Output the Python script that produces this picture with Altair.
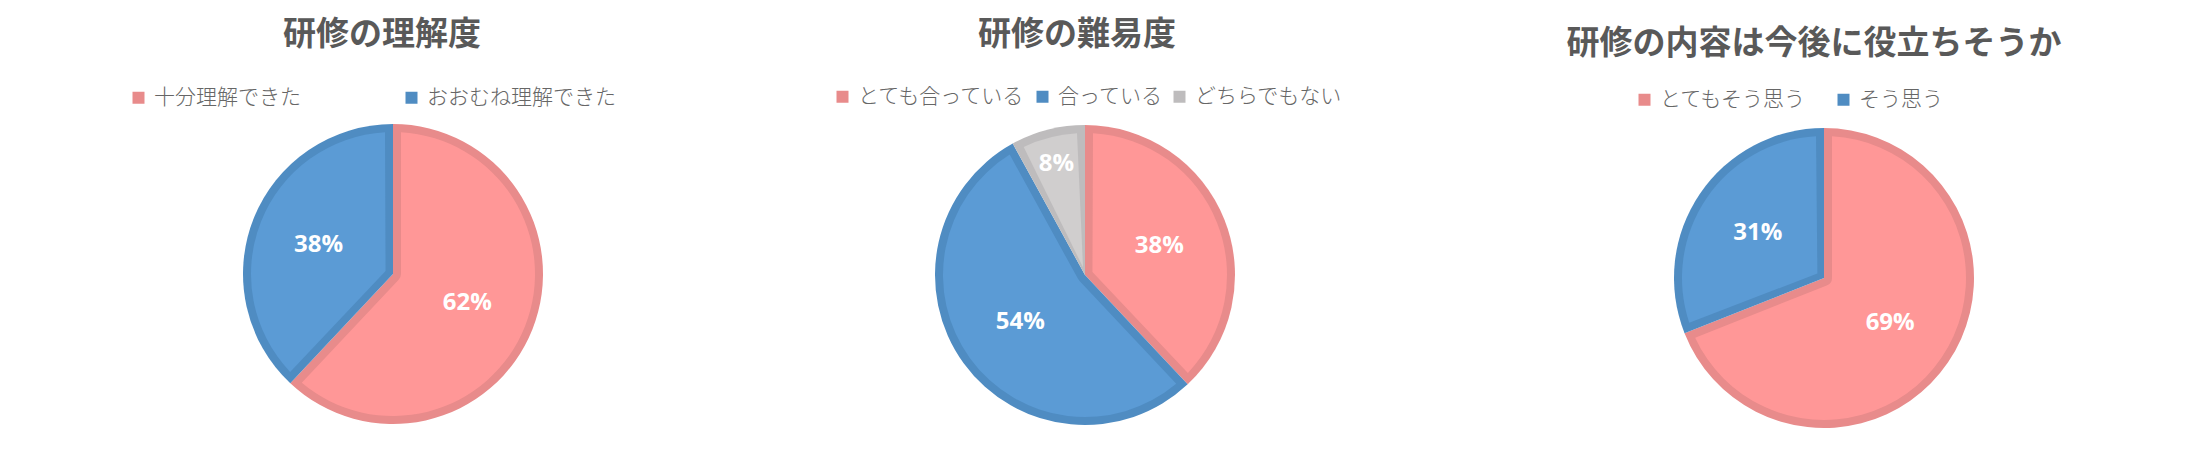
import altair as alt
import pandas as pd
import math

# ---- data ----
titles = ["研修の理解度", "研修の難易度", "研修の内容は今後に役立ちそうか"]

q1_cats = ["十分理解できた", "おおむね理解できた"]
q1_vals = [62, 38]

q2_cats = ["とても合っている", "合っている", "どちらでもない"]
q2_vals = [38, 54, 8]

q3_cats = ["とてもそう思う", "そう思う"]
q3_vals = [69, 31]

# ---- styles ----
fill_colors = ["#FF9797", "#5B9BD5", "#D0CECE"]
border_colors = ["#E88B8B", "#4F8CC2", "#BEBCBD"]
TEXT_GRAY = "#595959"
LEGEND_GRAY = "#666666"
JP_FONT = "Noto Sans CJK JP"
BORDER = 8

# layout per panel (chart coordinates)
layout = [
    dict(cx=385, cy=266, r=150, tx=374, ty=27, lx=120, ly=79, pad=100),
    dict(cx=1077, cy=267, r=150, tx=1069, ty=27, lx=824, ly=78, pad=6),
    dict(cx=1816, cy=270, r=150, tx=1806, ty=36, lx=1626, ly=81, pad=26),
]

questions = [(q1_cats, q1_vals), (q2_cats, q2_vals), (q3_cats, q3_vals)]

layers = []
for i, ((cats, vals), lay, title) in enumerate(zip(questions, layout, titles)):
    df = pd.DataFrame({"cat": cats, "val": vals, "idx": list(range(len(cats)))})
    n = len(cats)
    base = alt.Chart(df).encode(
        theta=alt.Theta("val:Q", stack=True),
        order=alt.Order("idx:Q"),
    )
    r = lay["r"]
    inner_r = r - BORDER
    pad_angle = 2 * BORDER / ((inner_r ** 2 + BORDER ** 2) ** 0.5)

    border_layer = base.mark_arc(
        x=lay["cx"], y=lay["cy"], radius=r
    ).encode(
        color=alt.Color(
            "cat:N",
            scale=alt.Scale(domain=cats, range=border_colors[:n]),
            sort=cats,
            legend=alt.Legend(
                title=None,
                orient="none",
                legendX=lay["lx"],
                legendY=lay["ly"],
                direction="horizontal",
                columnPadding=lay["pad"],
                symbolType="square",
                symbolSize=144,
                symbolStrokeWidth=0,
                labelFontSize=21,
                labelFont=JP_FONT,
                labelFontWeight=300,
                labelColor=LEGEND_GRAY,
                labelOffset=5,
                labelLimit=400,
            ),
        )
    )

    fill_layer = base.mark_arc(
        x=lay["cx"], y=lay["cy"], radius=inner_r, innerRadius=BORDER,
        padAngle=pad_angle
    ).encode(
        fill=alt.Fill(
            "cat:N",
            scale=alt.Scale(domain=cats, range=fill_colors[:n]),
            legend=None,
        )
    )

    label_layer = alt.Chart(df).transform_joinaggregate(
        total="sum(val)"
    ).transform_window(
        cum="sum(val)", sort=[alt.SortField("idx")], frame=[None, 0]
    ).transform_calculate(
        mid="(datum.cum - datum.val / 2) / datum.total",
        label="format(datum.val, 'd') + '%'",
        lr="datum.val < 10 ? 115 : 80",
    ).mark_text(
        x=lay["cx"], y=lay["cy"], font="Open Sans", fontWeight="bold",
        fontSize=24, color="white", align="center", baseline="middle",
    ).encode(
        theta=alt.Theta("mid:Q", stack=False,
                        scale=alt.Scale(domain=[0, 1], range=[0, 2 * math.pi])),
        radius=alt.Radius("lr:Q", scale=None),
        text="label:N",
    )

    title_layer = alt.Chart(pd.DataFrame({"t": [title]})).mark_text(
        x=lay["tx"], y=lay["ty"], font=JP_FONT, fontWeight="bold",
        fontSize=33, color=TEXT_GRAY, align="center", baseline="middle",
    ).encode(text="t:N")

    layers += [border_layer, fill_layer, label_layer, title_layer]

chart = alt.layer(*layers).resolve_scale(
    color="independent", fill="independent", theta="independent"
).resolve_legend(
    color="independent", fill="independent"
).properties(
    width=2170, height=430, padding=0, autosize=alt.AutoSizeParams(type="none")
).configure_view(stroke=None)

chart.save("out.html", embed_options={"renderer": "svg", "actions": False})
